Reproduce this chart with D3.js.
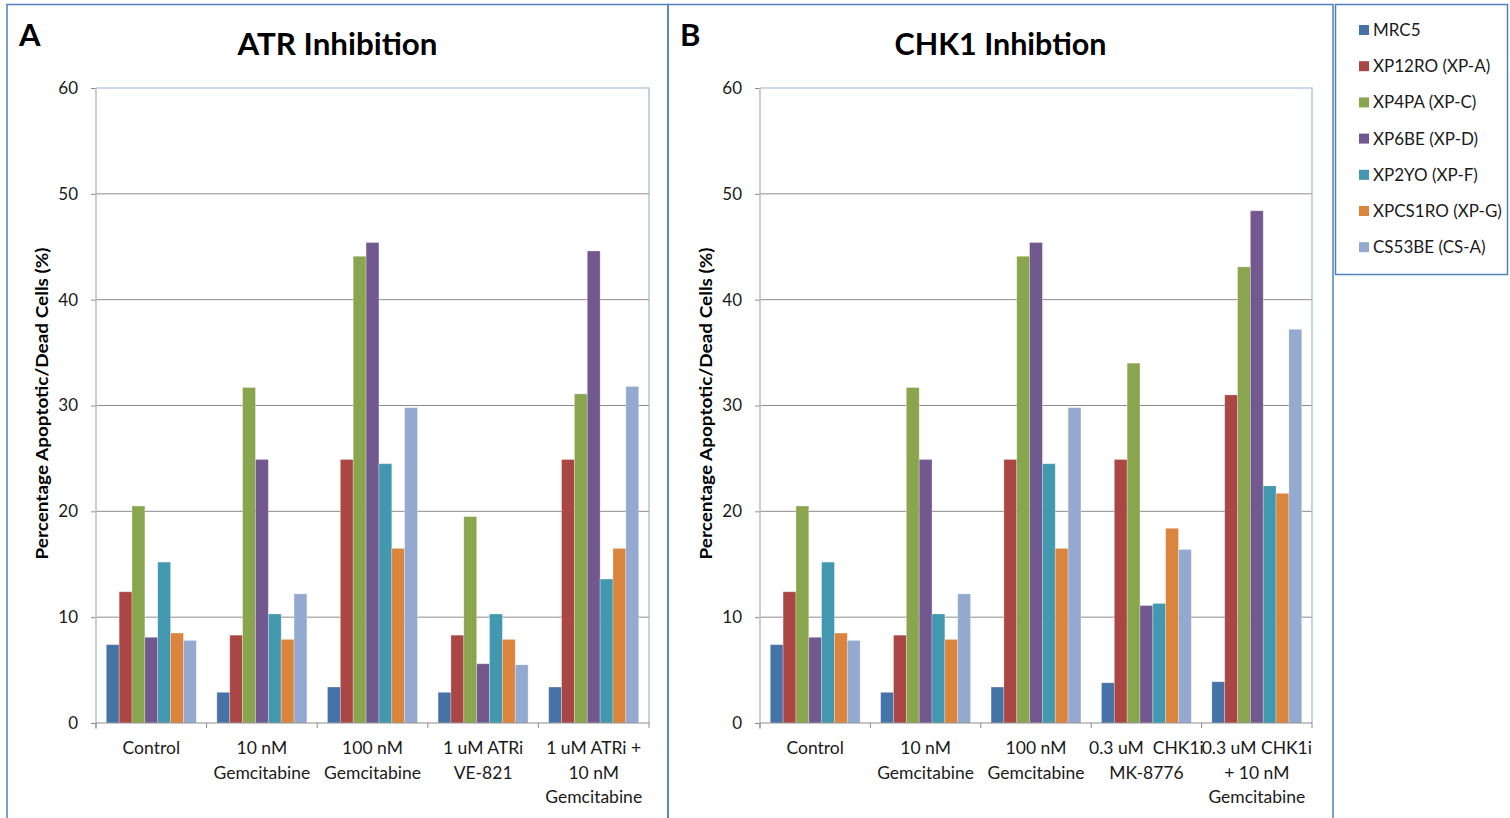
<!DOCTYPE html>
<html>
<head>
<meta charset="utf-8">
<script src="https://cdn.jsdelivr.net/npm/d3@7"></script>
<style>
  html, body { margin: 0; padding: 0; background: #ffffff; }
  svg { display: block; font-family: Lato, "Open Sans", sans-serif; }
</style>
</head>
<body>
<svg id="chart" width="1510" height="818"></svg>
<script>
// Cell lines (legend order) and their colours
const cellLines = ["MRC5", "XP12RO (XP-A)", "XP4PA (XP-C)", "XP6BE (XP-D)", "XP2YO (XP-F)", "XPCS1RO (XP-G)", "CS53BE (CS-A)"];
const lineColors = ["#4572A7", "#AA4643", "#89A54E", "#71588F", "#4198AF", "#DB843D", "#93A9CF"];

// Y axis ticks (%)
const yTicks = [0, 10, 20, 30, 40, 50, 60];

// Panel A: ATR inhibition — treatment labels (lines) and values per treatment (one per cell line)
const atrCategories = [["Control"], ["10 nM", "Gemcitabine"], ["100 nM", "Gemcitabine"], ["1 uM ATRi", "VE-821"], ["1 uM ATRi +", "10 nM", "Gemcitabine"]];
const atrControl = [7.4, 12.4, 20.5, 8.1, 15.2, 8.5, 7.8];
const atrGem10 = [2.9, 8.3, 31.7, 24.9, 10.3, 7.9, 12.2];
const atrGem100 = [3.4, 24.9, 44.1, 45.4, 24.5, 16.5, 29.8];
const atrVE821 = [2.9, 8.3, 19.5, 5.6, 10.3, 7.9, 5.5];
const atrCombo = [3.4, 24.9, 31.1, 44.6, 13.6, 16.5, 31.8];

// Panel B: CHK1 inhibition
const chkCategories = [["Control"], ["10 nM", "Gemcitabine"], ["100 nM", "Gemcitabine"], ["0.3 uM  CHK1i", "MK-8776"], ["0.3 uM CHK1i", "+ 10 nM", "Gemcitabine"]];
const chkControl = [7.4, 12.4, 20.5, 8.1, 15.2, 8.5, 7.8];
const chkGem10 = [2.9, 8.3, 31.7, 24.9, 10.3, 7.9, 12.2];
const chkGem100 = [3.4, 24.9, 44.1, 45.4, 24.5, 16.5, 29.8];
const chkMK8776 = [3.8, 24.9, 34.0, 11.1, 11.3, 18.4, 16.4];
const chkCombo = [3.9, 31.0, 43.1, 48.4, 22.4, 21.7, 37.2];

const svg = d3.select("#chart");
const frameBlue = "#4F81BD";
const textColor = "#1a1a1a";

function drawPanel(cfg) {
  const g = svg.append("g");
  const top = 88, bottom = 723;

  // panel frame
  g.append("rect")
    .attr("x", cfg.frameX).attr("y", 4.5)
    .attr("width", cfg.frameW).attr("height", 830)
    .attr("fill", "none").attr("stroke", frameBlue).attr("stroke-width", 1.5);

  // panel letter and title
  g.append("text").attr("x", cfg.frameX + 12).attr("y", 46)
    .attr("font-size", 31).attr("font-weight", 700).attr("fill", "#000")
    .text(cfg.letter);
  g.append("text").attr("x", cfg.frameX + cfg.frameW / 2).attr("y", 55)
    .attr("text-anchor", "middle")
    .attr("font-size", 31).attr("font-weight", 700).attr("fill", "#000")
    .attr("textLength", cfg.titleWidth).attr("lengthAdjust", "spacingAndGlyphs")
    .text(cfg.title);

  const y = d3.scaleLinear().domain([0, 60]).range([bottom, top]);
  const x = d3.scaleBand().domain(d3.range(cfg.categories.length))
    .range([cfg.left, cfg.right]).paddingInner(0).paddingOuter(0);
  const xs = d3.scaleBand().domain(d3.range(cellLines.length))
    .range([0, x.bandwidth()]).paddingOuter(0.8).paddingInner(0);

  // gridlines
  g.append("g").selectAll("line")
    .data(yTicks.filter(t => t > 0 && t < 60))
    .join("line")
    .attr("x1", cfg.left).attr("x2", cfg.right)
    .attr("y1", d => y(d)).attr("y2", d => y(d))
    .attr("stroke", "#8c8c8c").attr("stroke-width", 1);

  // plot area border (top/right)
  g.append("path")
    .attr("d", `M${cfg.left},${y(60)}H${cfg.right}V${bottom}`)
    .attr("fill", "none").attr("stroke", "#9DB5D9").attr("stroke-width", 1.2);

  // bars
  const values = cfg.values;
  const groups = g.append("g").selectAll("g")
    .data(values)
    .join("g")
    .attr("transform", (d, i) => `translate(${x(i)},0)`);
  groups.selectAll("rect")
    .data(d => d)
    .join("rect")
    .attr("x", (d, j) => xs(j))
    .attr("width", xs.bandwidth())
    .attr("y", d => y(d))
    .attr("height", d => bottom - y(d))
    .attr("fill", (d, j) => lineColors[j])
    .attr("stroke", "rgba(255,255,255,0.35)")
    .attr("stroke-width", 0.8);

  // y axis
  const yAxis = d3.axisLeft(y).tickValues(yTicks).tickSize(5).tickPadding(13);
  const ya = g.append("g").attr("transform", `translate(${cfg.left},0)`).call(yAxis);
  ya.select(".domain").remove();
  ya.selectAll(".tick line").attr("stroke", "#8c8c8c");
  ya.selectAll(".tick text").attr("font-size", 17).attr("fill", textColor)
    .attr("font-family", "Lato, sans-serif");
  g.append("line")
    .attr("x1", cfg.left).attr("x2", cfg.left)
    .attr("y1", top).attr("y2", bottom + 6)
    .attr("stroke", "#bdbdbd").attr("stroke-width", 1.5);

  // x axis with category boundary ticks
  g.append("line")
    .attr("x1", cfg.left).attr("x2", cfg.right)
    .attr("y1", bottom).attr("y2", bottom)
    .attr("stroke", "#8c8c8c").attr("stroke-width", 1);
  const bounds = d3.range(cfg.categories.length + 1).map(i => cfg.left + i * x.bandwidth());
  g.append("g").selectAll("line").data(bounds).join("line")
    .attr("x1", d => d).attr("x2", d => d)
    .attr("y1", bottom).attr("y2", bottom + 5)
    .attr("stroke", "#8c8c8c");

  // category labels
  const labels = g.append("g").selectAll("text")
    .data(cfg.categories)
    .join("text")
    .attr("text-anchor", "middle")
    .attr("font-size", 17.5).attr("fill", textColor)
    .attr("transform", (d, i) => `translate(${x(i) + x.bandwidth() / 2},${bottom + 31})`);
  labels.selectAll("tspan")
    .data(d => d)
    .join("tspan")
    .attr("x", 0)
    .attr("y", (d, k) => k * 24.5)
    .attr("xml:space", "preserve")
    .style("white-space", "pre")
    .text(d => d);

  // y axis title
  g.append("text")
    .attr("transform", `translate(${cfg.left - 48},${(top + bottom) / 2 - 2}) rotate(-90)`)
    .attr("text-anchor", "middle")
    .attr("font-size", 17).attr("font-weight", 700).attr("fill", "#000")
    .attr("textLength", 312).attr("lengthAdjust", "spacingAndGlyphs")
    .text("Percentage Apoptotic/Dead Cells (%)");
}

drawPanel({
  letter: "A", title: "ATR Inhibition", titleWidth: 200,
  frameX: 7, frameW: 661, left: 96, right: 649,
  categories: atrCategories,
  values: [atrControl, atrGem10, atrGem100, atrVE821, atrCombo]
});

drawPanel({
  letter: "B", title: "CHK1 Inhibtion", titleWidth: 212,
  frameX: 668, frameW: 665, left: 760, right: 1312,
  categories: chkCategories,
  values: [chkControl, chkGem10, chkGem100, chkMK8776, chkCombo]
});

// legend
const legend = svg.append("g");
legend.append("rect")
  .attr("x", 1335.5).attr("y", 4.5).attr("width", 172).attr("height", 270)
  .attr("fill", "#fff").attr("stroke", frameBlue).attr("stroke-width", 1.5);
const items = legend.selectAll("g.item").data(cellLines).join("g")
  .attr("class", "item")
  .attr("transform", (d, i) => `translate(1359,${30 + i * 36.2})`);
items.append("rect")
  .attr("x", 0).attr("y", -5).attr("width", 10).attr("height", 10)
  .attr("fill", (d, i) => lineColors[i]);
items.append("text")
  .attr("x", 14).attr("y", 6)
  .attr("font-size", 17).attr("fill", textColor)
  .text(d => d);
</script>
</body>
</html>
